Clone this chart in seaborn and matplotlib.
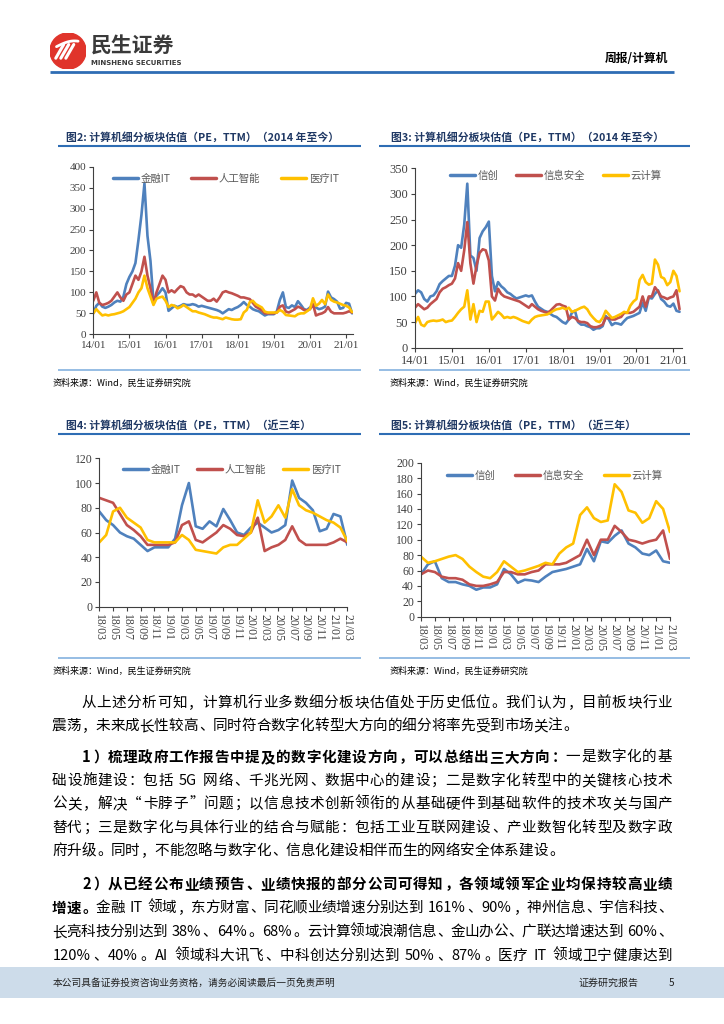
import numpy as np
import pandas as pd
import matplotlib
matplotlib.use("Agg")
import matplotlib.pyplot as plt
import seaborn as sns
from matplotlib.patches import Circle, Rectangle
from matplotlib.lines import Line2D

# ---------------- data (monthly readings) ----------------
# 金融IT / 人工智能 / 医疗IT : 2014/01 - 2018/02
FIN_IT_EARLY = [50, 68, 75, 66, 63, 66, 70, 76, 80, 78, 90, 120,
                137, 150, 170, 225, 285, 360, 235, 175, 78, 92, 100, 110,
                100, 56, 62, 68, 65, 68, 72, 70, 70, 72, 70, 66,
                68, 66, 64, 62, 60, 58, 55, 50, 55, 60, 58, 62,
                65, 70]
AI_EARLY = [80, 100, 75, 70, 72, 75, 80, 90, 100, 88, 80, 95,
            100, 120, 140, 130, 150, 185, 140, 110, 72, 100, 120, 140,
            130, 100, 105, 100, 108, 115, 112, 100, 95, 95, 90, 95,
            90, 85, 80, 80, 85, 78, 88, 100, 103, 100, 98, 95,
            92, 88]
MED_IT_EARLY = [50, 60, 52, 45, 47, 45, 47, 48, 50, 52, 55, 60,
                65, 75, 85, 100, 110, 140, 110, 90, 70, 85, 88, 90,
                80, 65, 70, 68, 62, 65, 70, 65, 60, 55, 55, 52,
                50, 48, 45, 42, 40, 40, 38, 36, 40, 38, 36, 35,
                35, 36]
# 金融IT / 人工智能 / 医疗IT : 2018/03 - 2021/03
FIN_IT_3Y = [77, 70, 66, 60, 57, 55, 50, 45, 48, 48, 48, 55, 82, 100, 65, 63, 69, 65,
             79, 70, 60, 58, 64, 68, 64, 60, 62, 66, 102, 88, 84, 78, 61, 63, 75, 73, 50]
AI_3Y = [88, 86, 84, 75, 66, 62, 57, 50, 50, 50, 50, 52, 66, 69, 54, 52, 56, 60,
         66, 63, 58, 57, 60, 72, 45, 48, 50, 54, 65, 54, 50, 50, 50, 50, 52, 55, 52]
MED_IT_3Y = [52, 58, 77, 80, 72, 68, 64, 54, 52, 52, 52, 52, 58, 54, 46, 45, 44, 43,
             48, 50, 50, 55, 60, 86, 68, 73, 82, 72, 95, 82, 78, 76, 73, 70, 68, 64, 53]

# 信创 / 信息安全 / 云计算 : 2014/01 - 2018/02
XC_EARLY = [105, 112, 108, 95, 90, 100, 102, 110, 124, 130, 135, 140,
            140, 160, 200, 195, 240, 320, 180, 175, 150, 214, 227, 235,
            246, 140, 110, 128, 120, 115, 108, 105, 100, 96, 98, 100,
            102, 100, 102, 90, 80, 76, 72, 70, 66, 62, 60, 55,
            50, 47]
SEC_EARLY = [78, 85, 80, 75, 78, 85, 90, 95, 108, 115, 118, 122,
             125, 135, 165, 150, 190, 245, 165, 125, 160, 185, 192, 190,
             170, 100, 92, 115, 105, 100, 98, 96, 94, 92, 90, 86,
             82, 78, 85, 80, 75, 72, 70, 68, 72, 78, 84, 85,
             82, 80]
CLOUD_EARLY = [48, 60, 45, 42, 50, 52, 53, 52, 53, 55, 50, 52,
               53, 60, 68, 75, 80, 112, 55, 85, 50, 72, 70, 90,
               90, 55, 62, 70, 65, 58, 60, 58, 60, 58, 55, 52,
               50, 48, 55, 60, 62, 63, 64, 65, 68, 72, 75, 76,
               78, 75]
# 信创 / 信息安全 / 云计算 : 2018/03 - 2021/03
XC_3Y = [55, 68, 72, 50, 45, 45, 42, 40, 35, 38, 38, 42, 62, 55, 44, 48, 47, 45,
         52, 58, 60, 62, 65, 68, 88, 72, 98, 96, 105, 112, 95, 90, 82, 80, 86, 72, 70]
SEC_3Y = [55, 60, 58, 52, 50, 50, 48, 42, 40, 40, 42, 45, 58, 58, 55, 55, 58, 60,
          68, 68, 68, 70, 75, 80, 100, 80, 100, 100, 118, 110, 100, 98, 95, 98, 100, 112, 75]
CLOUD_3Y = [78, 70, 72, 75, 78, 80, 75, 65, 58, 52, 50, 58, 72, 65, 58, 60, 63, 66,
            70, 68, 82, 90, 95, 132, 142, 128, 123, 125, 172, 162, 138, 135, 122, 128, 150, 140, 110]

NAMES_A = ['金融IT', '人工智能', '医疗IT']
NAMES_B = ['信创', '信息安全', '云计算']
COLORS = ['#4F81BD', '#C0504D', '#FFC000']
LONG_LABELS = ['14/01', '15/01', '16/01', '17/01', '18/01', '19/01', '20/01', '21/01']
SHORT_LABELS = ['18/03', '18/05', '18/07', '18/09', '18/11', '19/01', '19/03', '19/05',
                '19/07', '19/09', '19/11', '20/01', '20/03', '20/05', '20/07', '20/09',
                '20/11', '21/01', '21/03']

# ---------------- figure ----------------
sns.set_style('ticks')
plt.rcParams['font.family'] = ['Noto Sans CJK SC', 'DejaVu Sans']
plt.rcParams['axes.unicode_minus'] = False

W, H = 724, 1024
fig = plt.figure(figsize=(7.24, 10.24), dpi=100)
fig.patch.set_facecolor('white')
renderer = fig.canvas.get_renderer()


def fx(x):
    return x / W


def fy(y):
    return 1 - y / H


def hline(x0, x1, y, color, lw):
    fig.add_artist(Line2D([fx(x0), fx(x1)], [fy(y), fy(y)], transform=fig.transFigure,
                          color=color, lw=lw, solid_capstyle='butt'))


def add_ax(left, right, top, bottom):
    return fig.add_axes([fx(left), fy(bottom), (right - left) / W, (bottom - top) / H])


BLUE_RULE = '#2E6DB4'
TITLE_C = '#1F3864'

# ---------------- header ----------------
lax = fig.add_axes([fx(50), fy(69), 36 / W, 36 / H])
lax.set_xlim(0, 1)
lax.set_ylim(0, 1)
lax.axis('off')
lax.add_patch(Circle((0.5, 0.5), 0.5, color='#E0342B'))
tt = np.linspace(0, 1, 30)
for off in [0.0, 0.14, 0.28]:
    lax.plot(0.16 + off + 0.22 * tt, 0.30 + 0.38 * tt, color='white', lw=2.2, solid_capstyle='round')
lax.plot(0.18 + 0.6 * tt, 0.62 + 0.16 * np.sin(tt * np.pi * 0.6), color='white', lw=2.0)
fig.text(fx(91), fy(46), '民生证券', fontsize=15, fontweight='bold', color='#3A3A3A', va='center', ha='left')
fig.text(fx(91), fy(63), 'MINSHENG SECURITIES', fontsize=5, fontweight='bold', color='#3A3A3A',
         va='center', ha='left', family=['DejaVu Sans'])
fig.text(fx(668), fy(58), '周报/计算机', fontsize=8.5, fontweight='bold', color='black', va='center', ha='right')
hline(50, 674, 72, BLUE_RULE, 2.0)


# ---------------- charts ----------------
def chart(ax, x, ys, names, ylim, ystep, tick_pos, tick_labels, rot, fs_tick, leg_px, colspace, xmax):
    df = pd.DataFrame({
        'x': np.concatenate([x] * len(ys)),
        'v': np.concatenate([np.asarray(y, float) for y in ys]),
        's': np.repeat(names, len(x)),
    })
    sns.lineplot(data=df, x='x', y='v', hue='s', hue_order=names, palette=COLORS,
                 linewidth=1.9, ax=ax, errorbar=None)
    ax.set_xlim(0, xmax)
    ax.set_ylim(*ylim)
    ax.set_xlabel('')
    ax.set_ylabel('')
    yt = np.arange(ylim[0], ylim[1] + 1, ystep)
    ax.set_yticks(yt)
    ax.set_yticklabels([str(int(v)) for v in yt], fontfamily='Liberation Serif',
                       fontsize=fs_tick, color='#404040')
    ax.set_xticks(tick_pos)
    if rot:
        ax.set_xticklabels(tick_labels, rotation=270, ha='center', va='top',
                           fontfamily='Liberation Serif', fontsize=fs_tick, color='#404040')
    else:
        ax.set_xticklabels(tick_labels, fontfamily='Liberation Serif', fontsize=fs_tick, color='#404040')
    ax.tick_params(direction='out', length=3, width=0.8, color='#404040', pad=2)
    for sp in ['top', 'right']:
        ax.spines[sp].set_visible(False)
    for sp in ['left', 'bottom']:
        ax.spines[sp].set_color('#404040')
        ax.spines[sp].set_linewidth(0.8)
    ax.set_facecolor('white')
    pos = ax.get_position()
    axx = (fx(leg_px[0]) - pos.x0) / pos.width
    axy = (fy(leg_px[1]) - pos.y0) / pos.height
    handles, labels = ax.get_legend_handles_labels()
    leg = ax.legend(handles, labels, loc='center left', bbox_to_anchor=(axx, axy), ncol=3,
                    frameon=False, fontsize=7.5, handlelength=2.4, handletextpad=0.25,
                    columnspacing=colspace, borderpad=0, borderaxespad=0)
    for t in leg.get_texts():
        t.set_color('#595959')
    for ln in leg.get_lines():
        ln.set_linewidth(2.5)


x_long = np.arange(len(FIN_IT_EARLY) + len(FIN_IT_3Y))
x_short = np.arange(len(FIN_IT_3Y))
long_ticks = np.arange(0, 85, 12)
short_ticks = np.arange(0, 37, 2)

ax2 = add_ax(93.3, 352.7, 166.7, 334.3)
chart(ax2, x_long, [FIN_IT_EARLY + FIN_IT_3Y, AI_EARLY + AI_3Y, MED_IT_EARLY + MED_IT_3Y], NAMES_A,
      (0, 400), 50, long_ticks, LONG_LABELS, False, 8, (112.7, 179), 2.0, 86.2)

ax3 = add_ax(415, 681.7, 168.3, 347.7)
chart(ax3, x_long, [XC_EARLY + XC_3Y, SEC_EARLY + SEC_3Y, CLOUD_EARLY + CLOUD_3Y], NAMES_B,
      (0, 350), 50, long_ticks, LONG_LABELS, False, 9, (450, 175.7), 1.7, 86.7)

ax4 = add_ax(99.3, 347.3, 458.3, 606.7)
chart(ax4, x_short, [FIN_IT_3Y, AI_3Y, MED_IT_3Y], NAMES_A,
      (0, 120), 20, short_ticks, SHORT_LABELS, True, 8.5, (123, 470), 1.6, 36)

ax5 = add_ax(421, 670, 462.7, 616.7)
chart(ax5, x_short, [XC_3Y, SEC_3Y, CLOUD_3Y], NAMES_B,
      (0, 200), 20, short_ticks, SHORT_LABELS, True, 8.5, (446.7, 475.7), 1.9, 36)

# chart titles, rules, sources
titles = [
    (66, 137.5, '图2: 计算机细分板块估值（PE，TTM）（2014 年至今）'),
    (391, 137.5, '图3: 计算机细分板块估值（PE，TTM）（2014 年至今）'),
    (66, 425, '图4: 计算机细分板块估值（PE，TTM）（近三年）'),
    (391, 425, '图5: 计算机细分板块估值（PE，TTM）（近三年）'),
]
for x, y, s in titles:
    fig.text(fx(x), fy(y), s, fontsize=7.8, fontweight='bold', color=TITLE_C, va='center', ha='left')
for y in [146, 434]:
    hline(58, 361, y, BLUE_RULE, 1.5)
    hline(379, 690, y, BLUE_RULE, 1.5)
for y in [370, 658]:
    hline(58, 361, y, '#8DB7E2', 1.3)
    hline(379, 690, y, '#8DB7E2', 1.3)
for x, y in [(53, 383), (390, 383), (53, 671), (390, 671)]:
    fig.text(fx(x), fy(y), '资料来源：Wind，民生证券研究院', fontsize=6.5, color='black', va='center', ha='left')

# ---------------- body text ----------------
FS = 10.5
EM = FS * 100 / 72


def tokens(segments):
    toks = []
    for text, bold in segments:
        buf = ''
        for c in text:
            if ord(c) < 128 and c != ' ':
                buf += c
            else:
                if buf:
                    toks.append((buf, bold))
                    buf = ''
                toks.append((c, bold))
        if buf:
            toks.append((buf, bold))
    return toks


def draw_line(segments, x0, x1, y, justify):
    toks = tokens(segments)
    items = []
    for t, b in toks:
        w8 = 'bold' if b else 'normal'
        if t == ' ':
            items.append((None, EM * 0.28, None))
        elif len(t) == 1 and ord(t) >= 128:
            if t in '，。；：、）”':
                ha, dx = 'left', EM * 0.08
            elif t in '（“':
                ha, dx = 'right', EM * 0.92
            else:
                ha, dx = 'center', EM * 0.5
            a = fig.text(0, fy(y), t, fontsize=FS, fontweight=w8, va='center', ha=ha, color='black')
            items.append((a, EM, dx))
        else:
            a = fig.text(0, fy(y), t, fontsize=FS, fontweight=w8, va='center', ha='left', color='black')
            w = a.get_window_extent(renderer).width
            items.append((a, w + EM * 0.12, EM * 0.06))
    total = sum(w for _, w, _ in items)
    gap = (x1 - x0 - total) / (len(items) - 1) if justify else 0
    xx = x0
    for a, w, dx in items:
        if a is not None:
            a.set_x(fx(xx + dx))
        xx += w + gap


X0, X1 = 52, 672
IND = X0 + 2 * EM
body = [
    ([('从上述分析可知，计算机行业多数细分板块估值处于历史低位。我们认为，目前板块行业', False)], IND, 703, True),
    ([('震荡，未来成长性较高、同时符合数字化转型大方向的细分将率先受到市场关注。', False)], X0, 726, False),
    ([('1）梳理政府工作报告中提及的数字化建设方向，可以总结出三大方向：', True), ('一是数字化的基', False)], IND, 757, True),
    ([('础设施建设：包括 5G 网络、千兆光网、数据中心的建设；二是数字化转型中的关键核心技术', False)], X0, 781, True),
    ([('公关，解决“卡脖子”问题；以信息技术创新领衔的从基础硬件到基础软件的技术攻关与国产', False)], X0, 804, True),
    ([('替代；三是数字化与具体行业的结合与赋能：包括工业互联网建设、产业数智化转型及数字政', False)], X0, 828, True),
    ([('府升级。同时，不能忽略与数字化、信息化建设相伴而生的网络安全体系建设。', False)], X0, 851, False),
    ([('2）从已经公布业绩预告、业绩快报的部分公司可得知，各领域领军企业均保持较高业绩', True)], IND, 884, True),
    ([('增速。', True), ('金融 IT 领域，东方财富、同花顺业绩增速分别达到 161%、90%，神州信息、宇信科技、', False)], X0, 908, True),
    ([('长亮科技分别达到 38%、64%。68%。云计算领域浪潮信息、金山办公、广联达增速达到 60%、', False)], X0, 932, True),
    ([('120%、40%。AI 领域科大讯飞、中科创达分别达到 50%、87%。医疗 IT 领域卫宁健康达到', False)], X0, 956, True),
]
for segs, x0, y, just in body:
    draw_line(segs, x0, X1, y, just)

# ---------------- footer ----------------
fig.add_artist(Rectangle((0, fy(998)), 1, (998 - 967) / H, transform=fig.transFigure,
                         facecolor='#CDDCEA', edgecolor='none'))
fig.text(fx(53), fy(983), '本公司具备证券投资咨询业务资格，请务必阅读最后一页免责声明', fontsize=7,
         color='#222222', va='center', ha='left')
fig.text(fx(579), fy(983), '证券研究报告', fontsize=7.2, color='#222222', va='center', ha='left')
fig.text(fx(669), fy(983), '5', fontsize=7.2, color='#222222', va='center', ha='left')

fig.savefig('out.png', dpi=100)
